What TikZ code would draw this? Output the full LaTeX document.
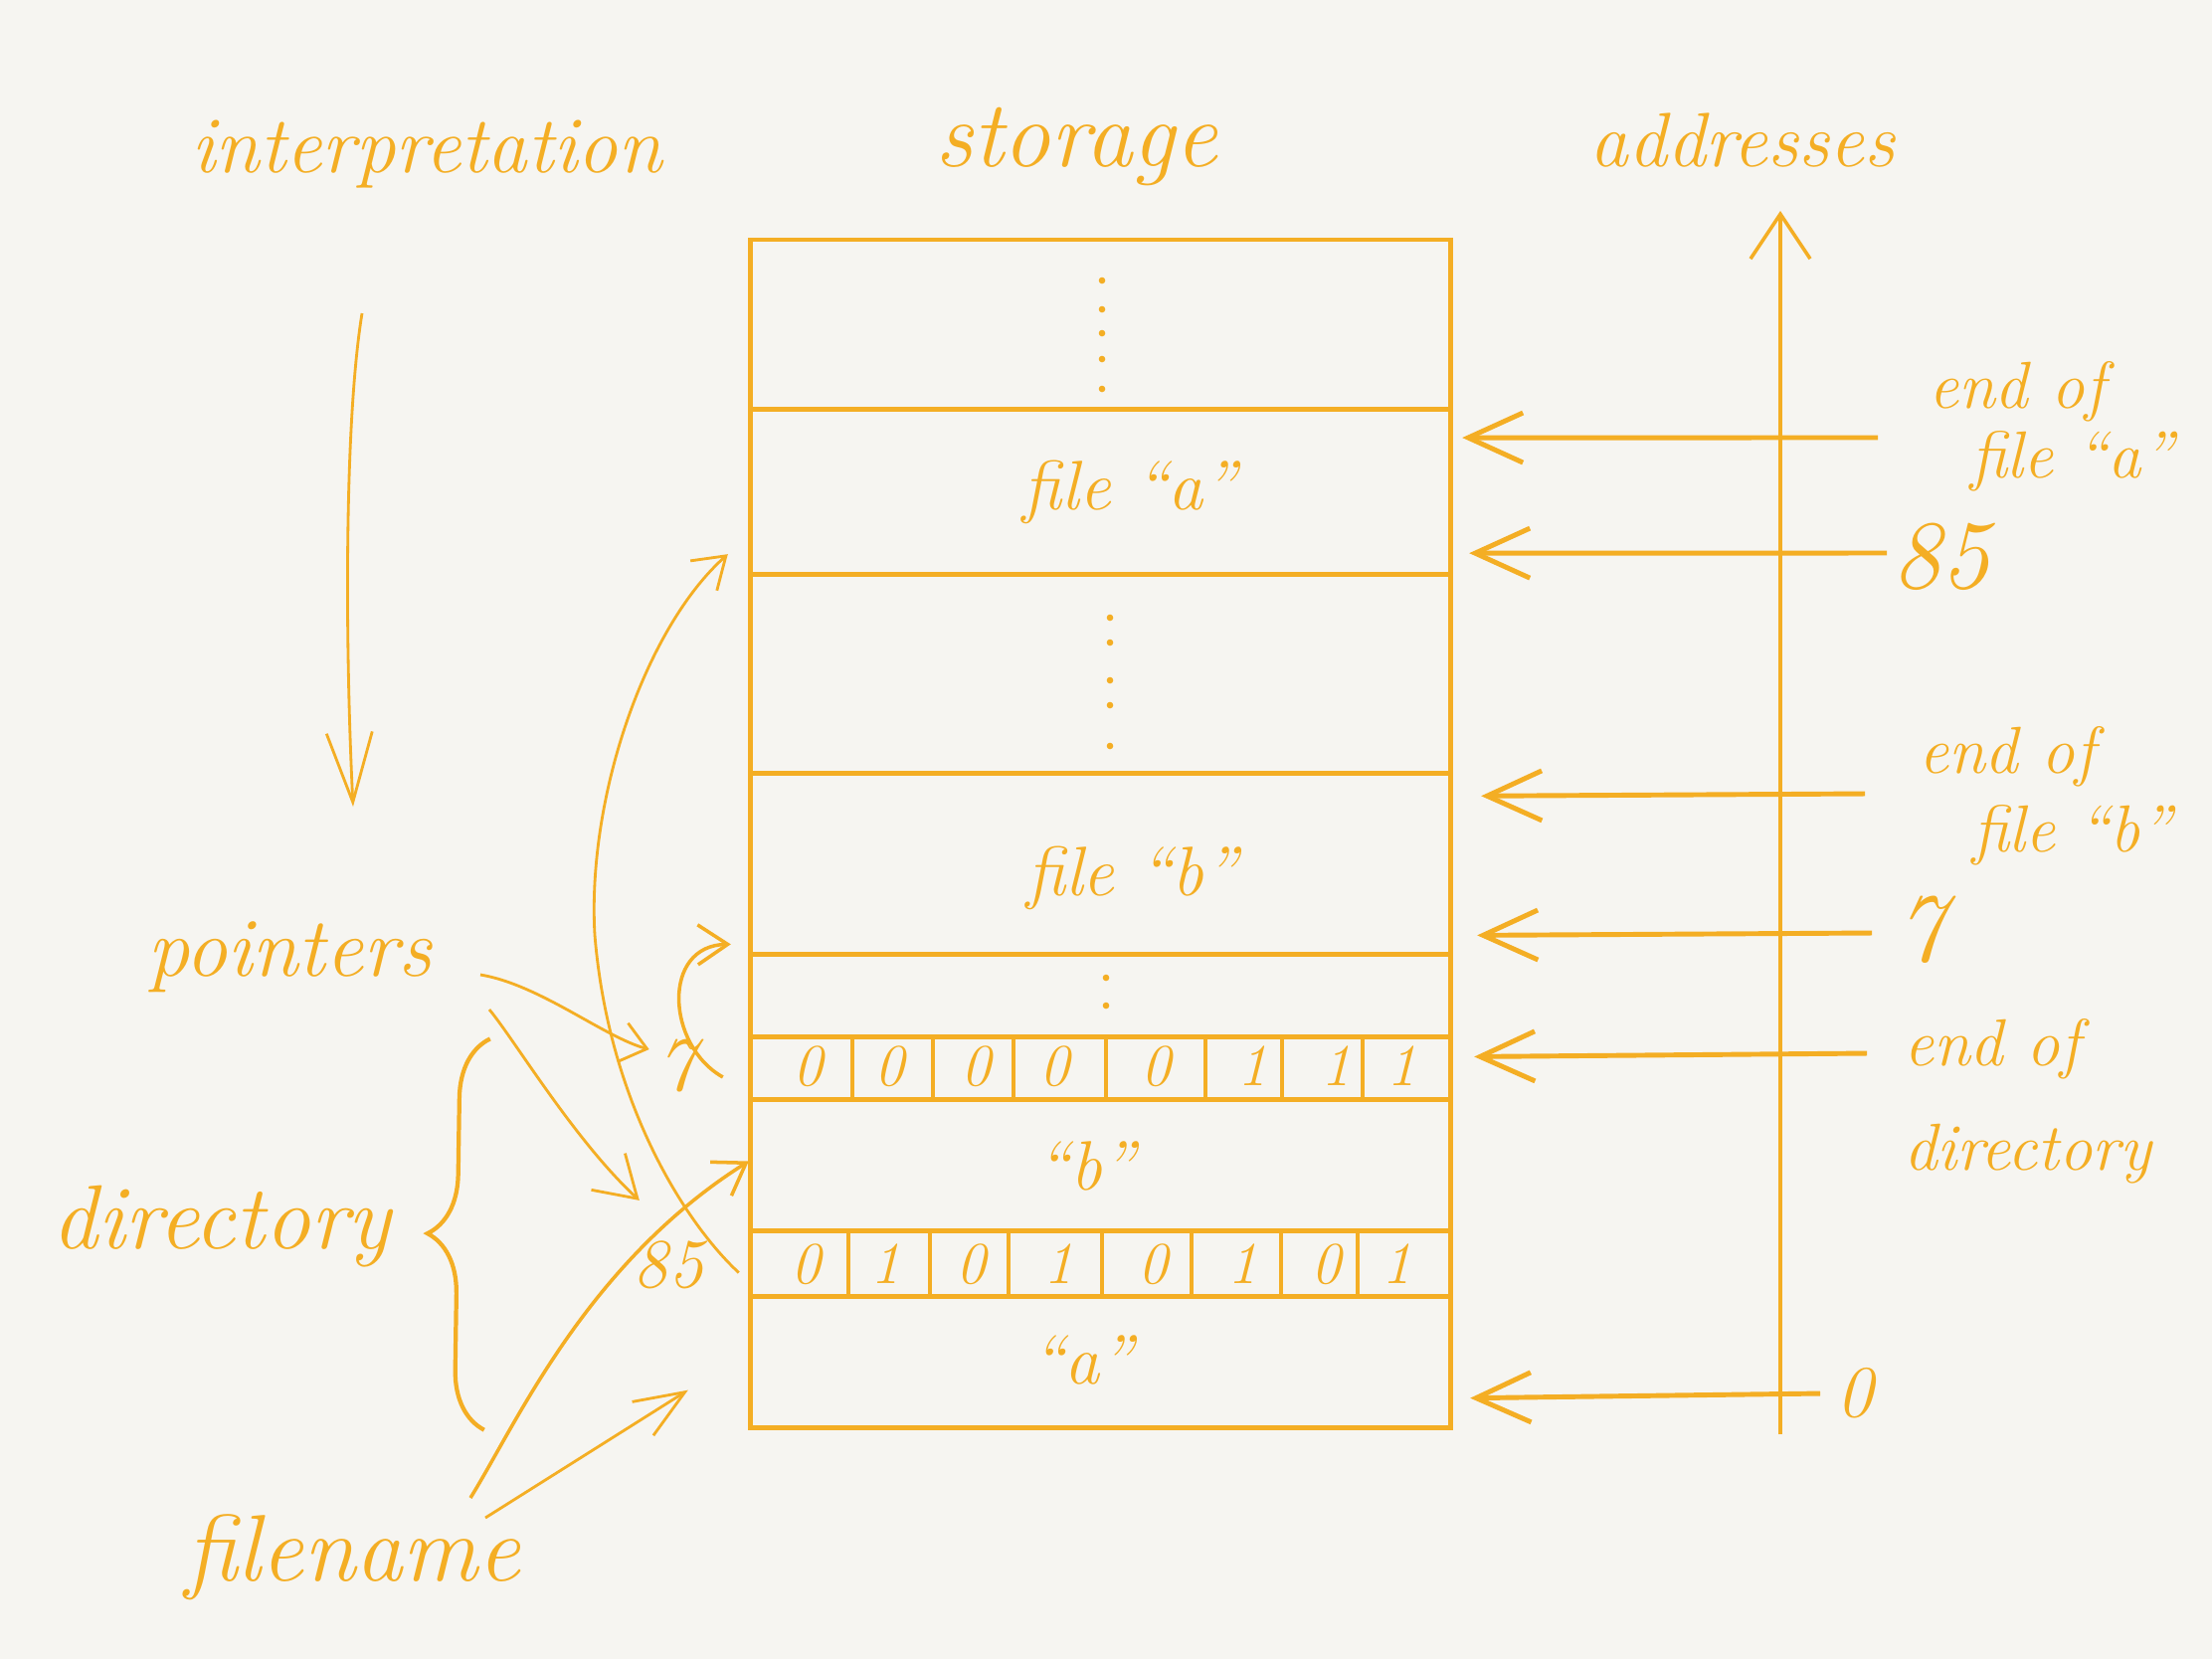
\documentclass[tikz,border=0pt]{standalone}
\usepackage{fontspec}
\usepackage{tikz}
\usetikzlibrary{arrows.meta, positioning, calc, decorations.pathreplacing}
\definecolor{pen}{RGB}{244,174,36}
\definecolor{paper}{RGB}{246,245,241}
\tikzset{
  hand/.style={text=pen, inner sep=0pt, outer sep=0pt},
  sec/.style={draw=pen, line width=1.4pt, minimum width=7.03cm, inner sep=0pt, outer sep=0pt},
  bit/.style={text=pen, inner sep=0pt, font={\fontsize{17}{17}\selectfont\itshape}},
  divider/.style={draw=pen, line width=1.4pt},
  addr/.style={draw=pen, line width=1.4pt, -{Straight Barb[length=5.5mm, width=5mm]}},
  ptr/.style={draw=pen, line width=0.8pt, -{Straight Barb[length=3mm, width=4mm]}},
}

\begin{document}
\begin{tikzpicture}[x=0.01cm, y=-0.01cm]
  \fill[paper] (0,0) rectangle (2224,1668);
  \useasboundingbox (0,0) rectangle (2224,1668);

  % headings
  \node[hand, anchor=base, font={\fontsize{23}{23}\selectfont\itshape}] (interp) at (429,173) {interpretation};
  \node[hand, anchor=base, font={\fontsize{27}{27}\selectfont\itshape}] (storage) at (1082,167) {storage};
  \node[hand, anchor=base, font={\fontsize{22}{22}\selectfont\itshape}] (addresses) at (1752,167) {addresses};

  % storage sections
  \node[sec, minimum height=1.70cm] (top) at (1106.5,326) {};
  \node[sec, minimum height=1.66cm, below=0pt of top] (fileA) {};
  \node[sec, minimum height=2.00cm, below=0pt of fileA] (gap) {};
  \node[sec, minimum height=1.82cm, below=0pt of gap] (fileB) {};
  \node[sec, minimum height=0.83cm, below=0pt of fileB] (gap2) {};
  \node[sec, minimum height=0.63cm, below=0pt of gap2] (dir7) {};
  \node[sec, minimum height=1.32cm, below=0pt of dir7] (nameB) {};
  \node[sec, minimum height=0.66cm, below=0pt of nameB] (dir85) {};
  \node[sec, minimum height=1.32cm, below=0pt of dir85] (nameA) {};

  % contents
  \foreach \y in {282,311,335,361,391}
    \fill[pen] (1108,\y) circle[radius=0.33mm];
  \foreach \y in {621,646,684,709,750}
    \fill[pen] (1116,\y) circle[radius=0.33mm];
  \foreach \y in {983,1011}
    \fill[pen] (1112,\y) circle[radius=0.33mm];
  \node[hand, anchor=base, font={\fontsize{20}{20}\selectfont\itshape}] (txtA) at (1136,512) {file ``a''};
  \node[hand, anchor=base, font={\fontsize{20}{20}\selectfont\itshape}] (txtB) at (1138,900) {file ``b''};
  \node[hand, font={\fontsize{20}{20}\selectfont\itshape}] (quoteB) at (1092,1172) {``b''};
  \node[hand, font={\fontsize{20}{20}\selectfont\itshape}] (quoteA) at (1088,1367) {``a''};

  % directory bytes
  \foreach \x in {857,938,1019,1112,1212,1289,1370}
    \draw[divider] (\x,1042) -- (\x,1105);
  \foreach \x in {853,935,1014,1108,1198,1288,1365}
    \draw[divider] (\x,1237) -- (\x,1303);
  \foreach \x/\b [count=\i] in {812/0,894/0,981/0,1060/0,1162/0,1259/1,1343/1,1409/1}
    \node[bit] (bitS\i) at (\x,1072) {\b};
  \foreach \x/\b [count=\i] in {810/0,890/1,976/0,1064/1,1159/0,1249/1,1333/0,1404/1}
    \node[bit] (bitE\i) at (\x,1271) {\b};

  % address axis
  \coordinate (axisBot) at (1790,1442);
  \coordinate (axisTop) at (1790,212);
  \draw[pen, line width=1pt, -{Straight Barb[length=4.5mm, width=6mm]}] (axisBot) -- (axisTop);

  \node[hand, anchor=north west, align=left, font={\fontsize{19}{20}\selectfont\itshape}] (endA) at (1939,363) {end of\\\hspace*{0.42cm}file ``a''};
  \node[hand, anchor=west, font={\fontsize{28}{28}\selectfont\itshape}] (adr85) at (1902,560) {85};
  \node[hand, anchor=north west, align=left, font={\fontsize{19}{22.5}\selectfont\itshape}] (endB) at (1929,730) {end of\\\hspace*{0.54cm}file ``b''};
  \node[hand, anchor=west, font={\fontsize{28}{28}\selectfont\itshape}] (adr7) at (1906,935) {7};
  \node[hand, anchor=north west, align=left, font={\fontsize{19}{30}\selectfont\itshape}] (endDir) at (1914,1024) {end of\\directory};
  \node[hand, anchor=west, font={\fontsize{21}{21}\selectfont\itshape}] (adr0) at (1846,1401) {0};

  \draw[addr] ($(endA.north west)+(-51,77)$) -- ($(fileA.north east)+(12,29)$);
  \draw[addr] ($(adr85.west)+(-5,-4)$) -- ($(fileA.south east)+(19,-21)$);
  \draw[addr] ($(endB.north west)+(-54,68)$) -- ($(fileB.north east)+(31,23)$);
  \draw[addr] ($(adr7.west)+(-24,3)$) -- ($(fileB.south east)+(27,-19)$);
  \draw[addr] ($(endDir.north west)+(-37,35)$) -- ($(dir7.north east)+(24,20)$);
  \draw[addr] ($(adr0.west)+(-16,0)$) -- ($(nameA.south east)+(20,-30)$);

  % left side
  \node[hand, anchor=base, font={\fontsize{24}{24}\selectfont\itshape}] (pointers) at (291,981) {pointers};
  \node[hand, anchor=base, font={\fontsize{26}{26}\selectfont\itshape}] (directory) at (223,1255) {directory};
  \node[hand, anchor=base, font={\fontsize{27}{27}\selectfont\itshape}] (filename) at (355,1589) {filename};
  \node[hand, font={\fontsize{22}{22}\selectfont\itshape}] (ptr7) at (680,1072) {7};
  \node[hand, font={\fontsize{20}{20}\selectfont\itshape}] (ptr85) at (672,1272) {85};

  \draw[pen, line width=0.8pt, -{Straight Barb[length=7mm, width=4.6mm]}]
    ($(interp.base)+(-65,142)$) .. controls +(-18,110) and +(-8,-160) .. ($(pointers.base)+(64,-170)$);
  \draw[ptr, -{Straight Barb[length=2.5mm, width=4mm]}]
    ($(pointers.base)+(192,-1)$) .. controls +(60,10) and +(-45,-12) .. ($(ptr7.west)+(-8,-17)$);
  \draw[ptr, -{Straight Barb[length=4mm, width=5mm]}]
    ($(pointers.base)+(201,34)$) .. controls +(25,30) and +(-65,-60) .. ($(ptr85.north west)+(6,-41)$);
  \draw[ptr]
    ($(dir85.west)+(-12,9)$) .. controls +(-53,-49) and +(14,170) .. (598,940)
    .. controls +(-8,-140) and +(-82,73) .. ($(fileA.south west)+(-23,-20)$);
  \draw[ptr, line width=1pt]
    ($(dir7.west)+(-28,9)$) .. controls +(-57,-32) and +(-70,1) .. ($(gap2.north west)+(-20,-10)$);
  \draw[ptr, line width=1pt]
    ($(filename.base)+(118,-83)$) .. controls +(47,-76) and +(-163,103) .. ($(nameB.west)+(-2,-4)$);
  \draw[ptr, -{Straight Barb[length=5mm, width=4mm]}]
    ($(filename.base)+(133,-63)$) -- ($(nameA.west)+(-63,28)$);

  % directory brace
  \draw[pen, line width=1.2pt, decorate, decoration={brace, amplitude=6mm}]
    ($(nameA.south west)+(-268,2)$) -- ($(dir7.north west)+(-262,2)$);
\end{tikzpicture}
\end{document}
